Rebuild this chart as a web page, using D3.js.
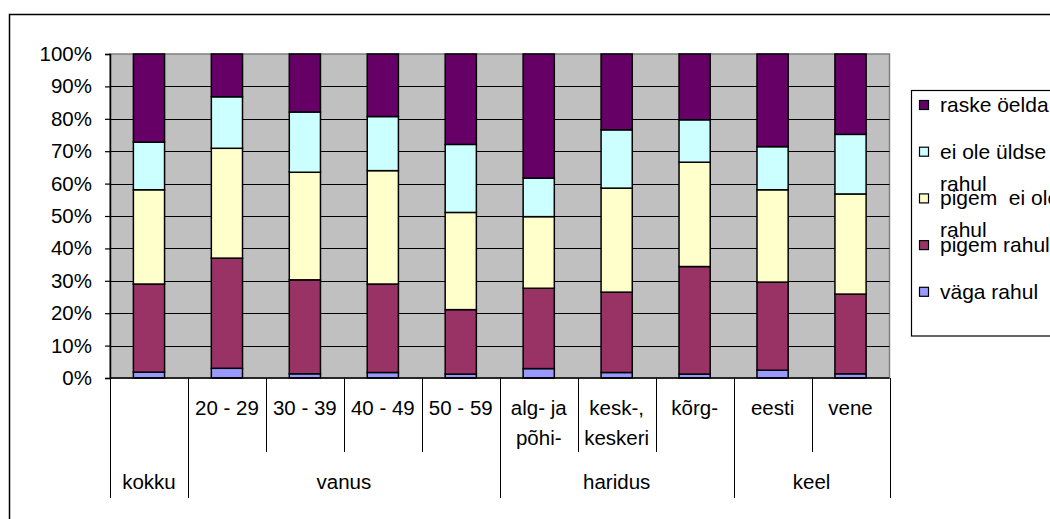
<!DOCTYPE html>
<html>
<head>
<meta charset="utf-8">
<script src="https://cdn.jsdelivr.net/npm/d3@7"></script>
<style>
  body { margin: 0; background: #fff; }
  svg { display: block; overflow: hidden; }
  text { font-family: "Liberation Sans", Arial, sans-serif; font-size: 20.5px; fill: #000; }
</style>
</head>
<body>
<div class="chart"></div>
<script>
// Stacked 100% columns with a two-level category axis

// categories (bottom row = groups, upper row = sub labels)
var subLabels = ["", "20 - 29", "30 - 39", "40 - 49", "50 - 59", "alg- ja|põhi-", "kesk-,|keskeri", "kõrg-", "eesti", "vene"];
var groupNames = ["kokku", "vanus", "haridus", "keel"];
var groupSpans = [1, 4, 3, 2];

// series values (%), bottom to top
var seriesNames = ["väga rahul", "pigem rahul", "pigem  ei ole rahul", "ei ole üldse rahul", "raske öelda"];
var vagaRahul = [1.8, 3.0, 1.3, 1.7, 1.2, 2.9, 1.7, 1.2, 2.4, 1.3];
var pigemRahul = [27.2, 34.0, 29.0, 27.3, 19.9, 24.8, 24.8, 33.2, 27.2, 24.6];
var pigemEiOle = [29.1, 33.9, 33.2, 35.0, 30.0, 22.1, 32.1, 32.2, 28.5, 30.9];
var eiOleUldse = [14.7, 15.9, 18.6, 16.7, 21.0, 11.9, 18.0, 13.1, 13.3, 18.4];
var raskeOelda = [27.2, 13.2, 17.9, 19.3, 27.9, 38.3, 23.4, 20.3, 28.6, 24.8];

// legend entries, top to bottom
var legendLabels = [["raske öelda"], ["ei ole üldse", "rahul"], ["pigem  ei ole", "rahul"], ["pigem rahul"], ["väga rahul"]];
var yTicks = [0, 0.1, 0.2, 0.3, 0.4, 0.5, 0.6, 0.7, 0.8, 0.9, 1];

var colors = ["#9999FF", "#993366", "#FFFFCC", "#CCFFFF", "#660066"];
var legendColors = ["#660066", "#CCFFFF", "#FFFFCC", "#993366", "#9999FF"];

var svgWidth = 1050, svgHeight = 519;
var plot = { left: 110, right: 889.5, top: 54, bottom: 378 };

var svg = d3.select(".chart")
  .append("svg")
  .attr("width", svgWidth)
  .attr("height", svgHeight);

// outer chart border (runs off the right and bottom edge)
svg.append("rect")
  .attr("x", 9.5).attr("y", 14.5)
  .attr("width", 1100).attr("height", 600)
  .attr("fill", "#fff")
  .attr("stroke", "#000")
  .attr("stroke-width", 1.5);

// build rows for the stack
var rows = subLabels.map(function(d, i) {
  return {
    key: i,
    s0: vagaRahul[i], s1: pigemRahul[i], s2: pigemEiOle[i], s3: eiOleUldse[i], s4: raskeOelda[i]
  };
});
var keys = ["s0", "s1", "s2", "s3", "s4"];
var stacked = d3.stack().keys(keys).offset(d3.stackOffsetExpand)(rows);

var xScale = d3.scaleBand()
  .domain(d3.range(subLabels.length))
  .range([plot.left, plot.right])
  .padding(0);

var yScale = d3.scaleLinear()
  .domain([0, 1])
  .range([plot.bottom, plot.top]);

// plot background
svg.append("rect")
  .attr("x", plot.left).attr("y", plot.top)
  .attr("width", plot.right - plot.left)
  .attr("height", plot.bottom - plot.top)
  .attr("fill", "#C0C0C0")
  .attr("stroke", "#808080")
  .attr("stroke-width", 1.5);

// gridlines
svg.append("g")
  .selectAll("line")
  .data(yTicks.slice(1, -1))
  .enter()
  .append("line")
  .attr("x1", plot.left).attr("x2", plot.right)
  .attr("y1", d => Math.round(yScale(d)) + 0.5)
  .attr("y2", d => Math.round(yScale(d)) + 0.5)
  .attr("stroke", "#000")
  .attr("stroke-width", 1.2);

// y axis
var leftAxis = d3.axisLeft(yScale)
  .tickValues(yTicks)
  .tickFormat(d3.format(".0%"))
  .tickSize(5)
  .tickPadding(13);

var yAxis = svg.append("g")
  .attr("transform", `translate(${plot.left}, 0)`)
  .call(leftAxis);
yAxis.select(".domain").attr("stroke", "#000").attr("stroke-width", 1.5);
yAxis.selectAll(".tick line").attr("stroke", "#000").attr("stroke-width", 1.2);
yAxis.selectAll("text")
  .style("font-size", "20.5px")
  .style("font-family", "Liberation Sans, Arial, sans-serif")
  .attr("fill", "#000");

// bars
var barWidth = xScale.bandwidth() * 0.4;
svg.append("g")
  .selectAll("g")
  .data(stacked)
  .enter()
  .append("g")
  .attr("fill", (d, i) => colors[i])
  .selectAll("rect")
  .data(d => d)
  .enter()
  .append("rect")
  .attr("x", d => xScale(d.data.key) + (xScale.bandwidth() - barWidth) / 2)
  .attr("y", d => yScale(d[1]))
  .attr("width", barWidth)
  .attr("height", d => yScale(d[0]) - yScale(d[1]))
  .attr("stroke", "#000")
  .attr("stroke-width", 1.5);

// category axis line
svg.append("line")
  .attr("x1", plot.left).attr("x2", plot.right)
  .attr("y1", plot.bottom).attr("y2", plot.bottom)
  .attr("stroke", "#000")
  .attr("stroke-width", 1.5);

// divider lines between categories
var groupStarts = [];
var acc = 0;
groupSpans.forEach(function(s) { groupStarts.push(acc); acc += s; });

var catAxis = svg.append("g");
d3.range(subLabels.length + 1).forEach(function(i) {
  var x = i < subLabels.length ? xScale(i) : plot.right;
  var full = i === subLabels.length || groupStarts.indexOf(i) >= 0;
  catAxis.append("line")
    .attr("x1", Math.round(x) + 0.5).attr("x2", Math.round(x) + 0.5)
    .attr("y1", plot.bottom)
    .attr("y2", full ? 498 : 452)
    .attr("stroke", "#000")
    .attr("stroke-width", 1);
});

// sub labels (one or two lines)
catAxis.selectAll("text.sub")
  .data(subLabels)
  .enter()
  .append("text")
  .attr("class", "sub")
  .attr("text-anchor", "middle")
  .each(function(d, i) {
    var lines = d.split("|");
    var t = d3.select(this);
    lines.forEach(function(l, j) {
      t.append("tspan")
        .attr("x", xScale(i) + xScale.bandwidth() / 2)
        .attr("y", 415 + j * 30)
        .text(l);
    });
  });

// group labels
catAxis.selectAll("text.grp")
  .data(groupNames)
  .enter()
  .append("text")
  .attr("class", "grp")
  .attr("text-anchor", "middle")
  .attr("x", (d, i) => xScale(groupStarts[i]) + groupSpans[i] * xScale.bandwidth() / 2)
  .attr("y", 489)
  .text(d => d);

// legend
var legend = svg.append("g");
legend.append("rect")
  .attr("x", 911.5).attr("y", 90.5)
  .attr("width", 200).attr("height", 245.5)
  .attr("fill", "#fff")
  .attr("stroke", "#000")
  .attr("stroke-width", 1.2);

var legendItems = legend.selectAll("g.item")
  .data(legendLabels)
  .enter()
  .append("g")
  .attr("class", "item")
  .attr("transform", (d, i) => `translate(0, ${105 + i * 46.7})`);

legendItems.append("rect")
  .attr("x", 919.5).attr("y", -4.5)
  .attr("width", 9).attr("height", 9)
  .attr("fill", (d, i) => legendColors[i])
  .attr("stroke", "#000")
  .attr("stroke-width", 1.2);

legendItems.append("text")
  .style("font-size", "21px")
  .each(function(d) {
    var t = d3.select(this);
    d.forEach(function(l, j) {
      t.append("tspan")
        .attr("x", 940)
        .attr("y", 7 + j * 32)
        .style("white-space", "pre")
        .text(l);
    });
  });
</script>
</body>
</html>
